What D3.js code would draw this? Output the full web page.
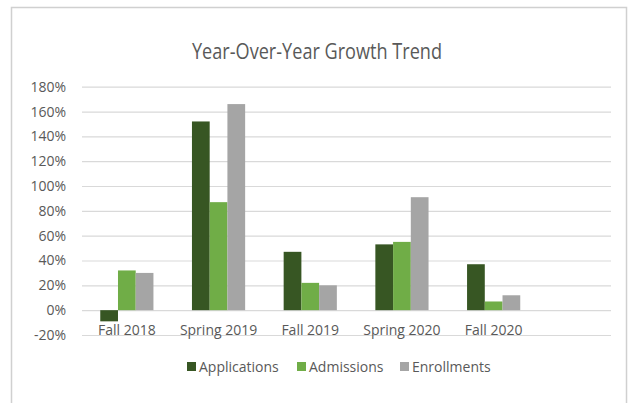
<!DOCTYPE html>
<html>
<head>
<meta charset="utf-8">
<script src="https://cdn.jsdelivr.net/npm/d3@7"></script>
<style>
  html, body { margin: 0; padding: 0; background: #fff; }
  svg { display: block; }
  text { font-family: "Open Sans", "Noto Sans", sans-serif; fill: #595959; }
</style>
</head>
<body>
<svg id="chart" width="629" height="403"></svg>
<script>
const categories = ["Fall 2018", "Spring 2019", "Fall 2019", "Spring 2020", "Fall 2020"];
const seriesNames = ["Applications", "Admissions", "Enrollments"];
const applications = [-9, 152, 47, 53, 37];
const admissions = [32, 87, 22, 55, 7];
const enrollments = [30, 166, 20, 91, 12];
const yTicks = [-20, 0, 20, 40, 60, 80, 100, 120, 140, 160, 180];
const colors = ["#375623", "#70AD47", "#A5A5A5"];

const seriesValues = [applications, admissions, enrollments];
const svg = d3.select("#chart");

// outer border
svg.append("rect")
  .attr("x", 11.5).attr("y", 7.5).attr("width", 615).attr("height", 410)
  .attr("fill", "none").attr("stroke", "#d0d0d0").attr("stroke-width", 1.5);

const plotLeft = 82, plotRight = 611;
const y = d3.scaleLinear().domain([-20, 180]).range([335, 86.7]);
const x = d3.scaleBand().domain(categories).range([81, 539.5])
  .paddingInner(0.42).paddingOuter(0.21);
const xs = d3.scaleBand().domain(seriesNames).range([0, x.bandwidth()]);

// title
svg.append("text")
  .attr("x", 317).attr("y", 59)
  .attr("text-anchor", "middle")
  .style("font-size", "21px")
  .attr("textLength", 250).attr("lengthAdjust", "spacingAndGlyphs")
  .text("Year-Over-Year Growth Trend");

// gridlines
const yAxis = d3.axisLeft(y).tickValues(yTicks)
  .tickSize(-(plotRight - plotLeft)).tickFormat(d => d + "%").tickPadding(16);
const gy = svg.append("g").attr("transform", `translate(${plotLeft},0)`).call(yAxis);
gy.select(".domain").remove();
gy.selectAll(".tick line").attr("stroke", "#d9d9d9").attr("stroke-width", 1.2);
gy.selectAll(".tick text").style("font-size", "14px").attr("fill", "#595959")
  .style("font-family", "'Open Sans', sans-serif");

// bars
const groups = svg.append("g").selectAll("g")
  .data(categories).join("g")
  .attr("transform", d => `translate(${x(d)},0)`);
groups.selectAll("rect")
  .data((c, i) => seriesNames.map((s, j) => ({ s, j, v: seriesValues[j][i] })))
  .join("rect")
  .attr("x", d => xs(d.s))
  .attr("width", xs.bandwidth())
  .attr("y", d => y(Math.max(0, d.v)))
  .attr("height", d => Math.abs(y(d.v) - y(0)))
  .attr("fill", d => colors[d.j]);

// category labels
const xAxis = d3.axisBottom(x).tickSize(0).tickPadding(0);
const gx = svg.append("g").attr("transform", `translate(0,${y(0) + 15})`).call(xAxis);
gx.select(".domain").remove();
gx.selectAll(".tick text").style("font-size", "14px").attr("fill", "#595959")
  .style("font-family", "'Open Sans', sans-serif");

// legend
const legendX = [187, 297, 400];
const legend = svg.append("g").selectAll("g").data(seriesNames).join("g")
  .attr("transform", (d, i) => `translate(${legendX[i]},367)`);
legend.append("rect").attr("x", 0).attr("y", -5).attr("width", 9).attr("height", 9)
  .attr("fill", (d, i) => colors[i]);
legend.append("text").attr("x", 12).attr("y", 5)
  .style("font-size", "14px").text(d => d);
</script>
</body>
</html>
